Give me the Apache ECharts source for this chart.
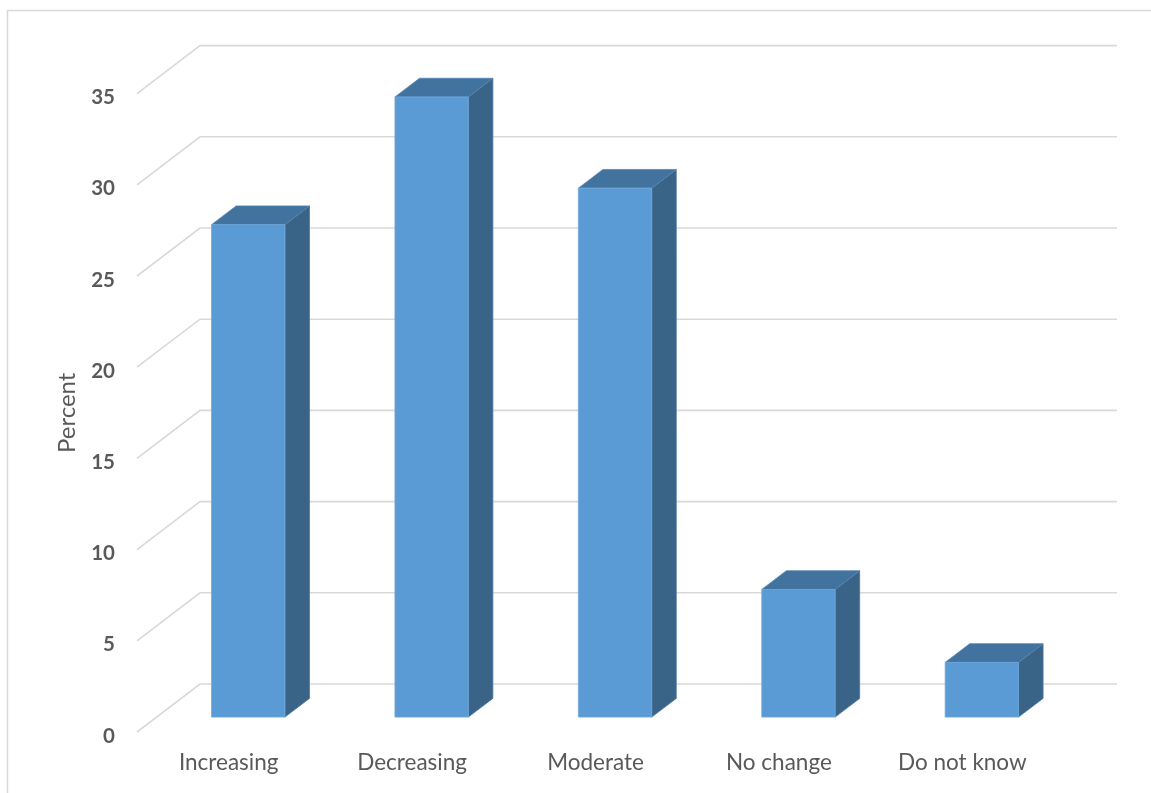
<!DOCTYPE html>
<html>
<head>
<meta charset="utf-8">
<script src="https://cdn.jsdelivr.net/npm/echarts@6/dist/echarts.min.js"></script>
<style>
  html, body { margin: 0; padding: 0; background: #ffffff; }
  #chart { width: 1151px; height: 793px; }
</style>
</head>
<body>
<div id="chart"></div>
<script>
// Survey responses (percent)
const categories = ['Increasing', 'Decreasing', 'Moderate', 'No change', 'Do not know'];
const percents = [27, 34, 29, 7, 3];
const yTicks = [0, 5, 10, 15, 20, 25, 30, 35];

// Oblique depth projection: the vector from the front plane to the back wall
const DEPTH = [63, -48];
// Bars occupy this slice of the depth
const BAR_FRONT = 0.31;
const BAR_BACK = 0.70;
const BAR_WIDTH_RATIO = 0.40;

const FONT = 'Lato, "Open Sans", sans-serif';
const TEXT = '#595959';
const GRID_LINE = '#D9D9D9';

const chart = echarts.init(document.getElementById('chart'), null, { renderer: 'canvas' });

function renderWalls(params, api) {
  const v = api.value(0);
  const cs = params.coordSys;
  const y = api.coord([0, v])[1];
  const x0 = cs.x;
  const bx = x0 + DEPTH[0];
  const by = y + DEPTH[1];
  return {
    type: 'polyline',
    shape: { points: [[x0, y], [bx, by], [bx + cs.width, by]] },
    style: { stroke: GRID_LINE, lineWidth: 1.6, fill: null },
    silent: true
  };
}

function renderBar(params, api) {
  const idx = api.value(0);
  const val = api.value(1);
  const base = api.coord([idx, 0]);
  const top = api.coord([idx, val]);
  const w = api.size([1, 0])[0] * BAR_WIDTH_RATIO;
  const fx = DEPTH[0] * BAR_FRONT, fy = DEPTH[1] * BAR_FRONT;
  const d = [DEPTH[0] * (BAR_BACK - BAR_FRONT), DEPTH[1] * (BAR_BACK - BAR_FRONT)];
  const l = base[0] + fx - w / 2;
  const r = base[0] + fx + w / 2;
  const b = base[1] + fy;
  const t = top[1] + fy;
  return {
    type: 'group',
    children: [
      {
        type: 'polygon',
        shape: { points: [[r, b], [r + d[0], b + d[1]], [r + d[0], t + d[1]], [r, t]] },
        style: { fill: '#3A6388', stroke: '#4A78A3', lineWidth: 0.8 }
      },
      {
        type: 'polygon',
        shape: { points: [[l, t], [r, t], [r + d[0], t + d[1]], [l + d[0], t + d[1]]] },
        style: { fill: '#42739F', stroke: '#5586B5', lineWidth: 0.8 }
      },
      {
        type: 'rect',
        shape: { x: l, y: t, width: r - l, height: b - t },
        style: { fill: '#5B9BD5', stroke: '#6FA8DC', lineWidth: 0.8 }
      }
    ]
  };
}

chart.setOption({
  animation: false,
  backgroundColor: '#ffffff',
  graphic: [{
    type: 'rect',
    shape: { x: 7.5, y: 10.5, width: 1200, height: 900 },
    style: { fill: null, stroke: GRID_LINE, lineWidth: 1.5 },
    silent: true,
    z: -1
  }],
  grid: { left: 137, right: 97, top: 93.6, bottom: 61 },
  xAxis: {
    type: 'category',
    data: categories,
    axisLine: { show: false },
    axisTick: { show: false },
    splitLine: { show: false },
    axisLabel: { color: TEXT, fontFamily: FONT, fontSize: 22.5, margin: 19 }
  },
  yAxis: {
    type: 'value',
    min: 0,
    max: 35,
    interval: 5,
    name: 'Percent',
    nameLocation: 'middle',
    nameRotate: 90,
    nameGap: 58,
    nameTextStyle: { color: TEXT, fontFamily: FONT, fontSize: 24 },
    axisLine: { show: false },
    axisTick: { show: false },
    splitLine: { show: false },
    axisLabel: {
      color: TEXT, fontFamily: FONT, fontSize: 20.5, fontWeight: 'bold', margin: 22,
      formatter: (v) => yTicks.includes(v) ? '{t|' + v + '}' : '',
      rich: {
        t: {
          color: TEXT, fontFamily: FONT, fontSize: 20.5, fontWeight: 'bold',
          padding: [8, 0, 0, 0]
        }
      }
    }
  },
  series: [
    {
      type: 'custom',
      name: 'walls',
      renderItem: renderWalls,
      data: yTicks.map(v => [v]),
      encode: { y: 0 },
      silent: true,
      z: 1
    },
    {
      type: 'custom',
      name: 'Percent',
      renderItem: renderBar,
      data: percents.map((v, i) => [i, v]),
      encode: { x: 0, y: 1 },
      z: 2
    }
  ]
});
</script>
</body>
</html>
